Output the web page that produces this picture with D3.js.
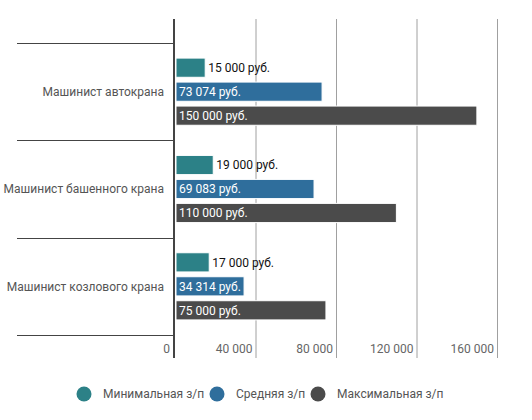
<!DOCTYPE html>
<html>
<head>
<meta charset="utf-8">
<script src="https://cdn.jsdelivr.net/npm/d3@7"></script>
<style>
    body { margin: 0; background: #fff; }
    svg text { font-family: Roboto, "Liberation Sans", sans-serif; }
</style>
</head>
<body>
<div class="salaryChart"></div>
<script>
var categories = ["Машинист автокрана", "Машинист башенного крана", "Машинист козлового крана"];
var seriesNames = ["Минимальная з/п", "Средняя з/п", "Максимальная з/п"];
var seriesColors = ["#2c8187", "#2f6e9c", "#4b4b4b"];
var minSalary = [15000, 19000, 17000];
var avgSalary = [73074, 69083, 34314];
var maxSalary = [150000, 110000, 75000];
var tickValues = [0, 40000, 80000, 120000, 160000];

(function () {
    var width = 532, height = 420;
    var plotTop = 19, plotBottom = 358;
    var fontSize = 12;
    var seriesValues = [minSalary, avgSalary, maxSalary];
    var fmt = function (v) { return d3.format(",")(v).replace(/,/g, " "); };

    var svg = d3.select(".salaryChart").append("svg")
        .attr("width", width)
        .attr("height", height);

    var x = d3.scaleLinear().domain([0, 160000]).range([175, 497]);
    var y = d3.scaleBand().domain(categories).range([43, 335]);
    var inner = d3.scaleBand().domain(seriesNames)
        .range([y.bandwidth() * 0.155, y.bandwidth() * 0.845])
        .paddingInner(0.2);

    /*
        Grid + ticks
    */
    svg.selectAll("line.grid").data(tickValues.slice(1)).enter().append("line")
        .attr("class", "grid")
        .attr("x1", function (d) { return x(d) + 0.5; })
        .attr("x2", function (d) { return x(d) + 0.5; })
        .attr("y1", plotTop)
        .attr("y2", plotBottom)
        .attr("stroke", "#a0a0a0");

    svg.selectAll("text.tick").data(tickValues).enter().append("text")
        .attr("class", "tick")
        .attr("x", function (d) { return x(d) - (d === 0 ? 5 : 3); })
        .attr("y", 353)
        .attr("text-anchor", "end")
        .attr("font-size", fontSize)
        .attr("fill", "#666")
        .text(function (d) { return fmt(d); });

    // category separators
    var bounds = categories.map(function (c) { return y(c); }).concat([y.range()[1]]);
    svg.selectAll("line.sep").data(bounds).enter().append("line")
        .attr("class", "sep")
        .attr("x1", 17)
        .attr("x2", 174)
        .attr("y1", function (d) { return Math.round(d) + 0.5; })
        .attr("y2", function (d) { return Math.round(d) + 0.5; })
        .attr("stroke", "#444");

    svg.append("line")
        .attr("x1", 174).attr("x2", 174)
        .attr("y1", plotTop).attr("y2", plotBottom)
        .attr("stroke", "#444")
        .attr("stroke-width", 2);

    svg.selectAll("text.cat").data(categories).enter().append("text")
        .attr("class", "cat")
        .attr("x", 164)
        .attr("y", function (d) { return y(d) + y.bandwidth() / 2; })
        .attr("dy", ".35em")
        .attr("text-anchor", "end")
        .attr("font-size", fontSize)
        .attr("fill", "#555")
        .text(function (d) { return d; });

    /*
        Bars
    */
    var items = [];
    categories.forEach(function (c, ci) {
        seriesNames.forEach(function (s, si) {
            items.push({ cat: c, series: s, si: si, value: seriesValues[si][ci] });
        });
    });

    var groups = svg.selectAll("g.bar").data(items).enter().append("g")
        .attr("class", "bar");

    groups.append("rect")
        .attr("x", x(0) + 1)
        .attr("y", function (d) { return y(d.cat) + inner(d.series); })
        .attr("width", function (d) { return x(d.value) - x(0) - 1; })
        .attr("height", inner.bandwidth())
        .attr("fill", function (d) { return seriesColors[d.si]; })
        .attr("stroke", "#fff")
        .attr("stroke-width", 1);

    groups.append("text")
        .attr("x", function (d) { return d.si === 0 ? x(d.value) + 3 : x(0) + 4; })
        .attr("y", function (d) { return y(d.cat) + inner(d.series) + inner.bandwidth() / 2; })
        .attr("dy", ".35em")
        .attr("font-size", fontSize)
        .attr("fill", function (d) { return d.si === 0 ? "#111" : "#fff"; })
        .text(function (d) { return fmt(d.value) + " руб."; });

    /*
        Legend
    */
    var legendX = [84, 217, 318];
    var legend = svg.selectAll("g.legend").data(seriesNames).enter().append("g")
        .attr("class", "legend")
        .attr("transform", function (d, i) { return "translate(" + legendX[i] + ",394)"; });
    legend.append("circle")
        .attr("r", 7.5)
        .attr("fill", function (d, i) { return seriesColors[i]; });
    legend.append("text")
        .attr("x", 19)
        .attr("dy", ".35em")
        .attr("font-size", fontSize)
        .attr("fill", "#555")
        .text(function (d) { return d; });
})();
</script>
</body>
</html>
